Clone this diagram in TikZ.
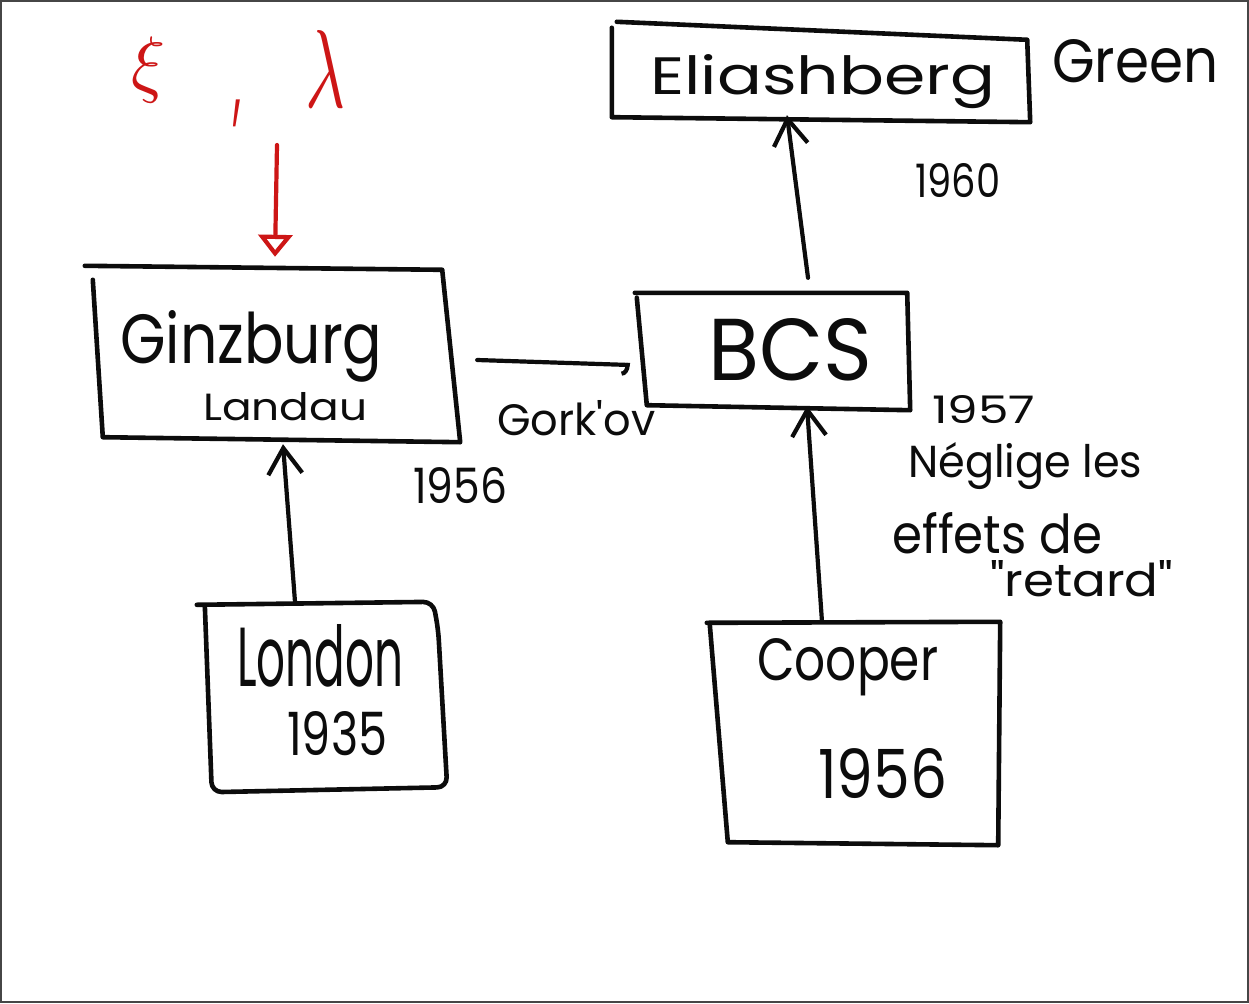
\documentclass[tikz,border=0pt]{standalone}
\usepackage{fontspec}
\setmainfont{Poppins}
\usetikzlibrary{arrows.meta}
\definecolor{ink}{RGB}{12,12,12}
\definecolor{redink}{RGB}{205,22,22}
\definecolor{framegray}{RGB}{70,70,70}
\newcommand{\fitt}[3]{\resizebox{#1pt}{#2pt}{#3}}
\newcommand{\fitall}[3]{\resizebox*{#1pt}{#2pt}{#3}}
\begin{document}
\begin{tikzpicture}[x=1pt,y=-1pt,
  boxnode/.style={draw=none, rectangle, inner sep=0pt},
  boxline/.style={line width=4.6pt, line join=round, line cap=round, draw=ink},
  arr/.style={line width=4.2pt, line cap=round, line join=round, draw=ink,
    -{Straight Barb[length=26pt,width=34pt,line width=4.2pt]}},
  txt/.style={inner sep=0pt, anchor=base west, text=ink},
  redtxt/.style={inner sep=0pt, anchor=north west, text=redink}]
% page and frame
\useasboundingbox (0,0) rectangle (1249,1003);
\fill[white] (0,0) rectangle (1249,1003);
\draw[line width=2pt, framegray] (1,1) rectangle (1248,1002);

% box nodes
\node[boxnode, minimum width=417pt, minimum height=100pt] (eli) at (821.5,72) {};
\node[boxnode, minimum width=367pt, minimum height=176pt] (gl) at (276.5,354) {};
\node[boxnode, minimum width=273pt, minimum height=117pt] (bcs) at (773.5,351.5) {};
\node[boxnode, minimum width=242pt, minimum height=190pt] (london) at (326,697) {};
\node[boxnode, minimum width=290pt, minimum height=223pt] (cooper) at (855,733.5) {};

% hand-drawn outlines of the boxes
\draw[boxline] ([shift={(4,0)}]eli.north west) -- ([shift={(-3,18)}]eli.north east)
  -- (eli.south east) -- ([shift={(-1,-5)}]eli.south west) -- ([shift={(-1,6)}]eli.north west);
\draw[boxline] ([shift={(-8,0)}]gl.north west) -- ([shift={(-18,4)}]gl.north east)
  -- (gl.south east) -- ([shift={(10,-5)}]gl.south west) -- ([shift={(0,14)}]gl.north west);
\draw[boxline] ([shift={(-2,0)}]bcs.north west) -- ([shift={(-3,0)}]bcs.north east)
  -- (bcs.south east) -- ([shift={(10,-5)}]bcs.south west) -- ([shift={(0,5)}]bcs.north west);
\draw[boxline, rounded corners=10pt] ([shift={(-8,3)}]london.north west) -- ([shift={(-14,0)}]london.north east)
  -- ([shift={(-9,28)}]london.north east) -- ([shift={(0,-5)}]london.south east) -- ([shift={(7,0)}]london.south west)
  -- ([shift={(0,3)}]london.north west);
\draw[boxline] ([shift={(-3,1)}]cooper.north west) -- (cooper.north east)
  -- ([shift={(-2,0)}]cooper.south east) -- ([shift={(18,-3)}]cooper.south west) -- ([shift={(0,3)}]cooper.north west);

% texts in boxes
\node[txt] (teli) at (650,95) {\fitt{345}{40}{Eliashberg}};
\node[txt] (tgin) at (120,363) {\fitt{262}{53}{Ginzburg}};
\node[txt] (tlan) at (203,420) {\fitt{164}{28}{Landau}};
\node[txt] (tbcs) at (708,380) {\fitt{164}{62}{BCS}};
\node[txt] (tlon) at (237,686) {\fitt{166}{62}{London}};
\node[txt] (tlony) at (287,755) {\fitt{100}{44}{1935}};
\node[txt] (tcoo) at (757,680) {\fitt{181}{42}{Cooper}};
\node[txt] (tcooy) at (818,798) {\fitt{129}{50}{1956}};

% labels
\node[txt] (green) at (1052,83) {\fitt{166}{43}{Green}};
\node[txt] (y1960) at (915,197) {\fitt{85}{34}{1960}};
\node[txt] (y1956) at (413,503) {\fitt{94}{36}{1956}};
\node[txt] (gorkov) at (497,435) {\fitt{158}{35}{Gork\textquotesingle ov}};
\node[txt] (y1957) at (932,423) {\fitt{103}{28}{1957}};
\node[txt] (neg1) at (908,477) {\fitt{234}{35}{Néglige les}};
\node[txt] (neg2) at (892,553) {\fitt{210}{41}{effets de}};
\node[txt] (neg3) at (990,596) {\fitt{183}{36}{\textquotedbl retard\textquotedbl}};

% red parameters
\node[redtxt] (xi) at (131,37) {\fitall{34}{66}{$\xi$}};
\node[redtxt] (comma) at (233,100) {\fitall{8}{27}{,}};
\node[redtxt] (lambda) at (305,30) {\fitall{40}{77}{$\lambda$}};
\coordinate (redstart) at (277,145);

% connectors
\draw[arr] ([xshift=-31pt]london.north) -- ([shift={(6.5,2)}]gl.south);
\draw[arr] ([xshift=-33pt]cooper.north) -- ([shift={(33.5,-4)}]bcs.south);
\draw[arr] ([shift={(34.5,-15)}]bcs.north) -- ([shift={(-34.5,-7)}]eli.south);
\draw[line width=4.2pt, line cap=round, line join=round, draw=ink,
  -{Arc Barb[length=8pt,width=22pt,line width=4.2pt,right]}]
  ([shift={(17,6)}]gl.east) -- ([shift={(-7,13.5)}]bcs.west);
\draw[line width=4.2pt, line cap=round, line join=round, draw=redink,
  -{Triangle[open,length=22pt,width=34pt,line width=4.2pt]}]
  (redstart) -- ([shift={(-1.5,-9)}]gl.north);
\end{tikzpicture}
\end{document}
